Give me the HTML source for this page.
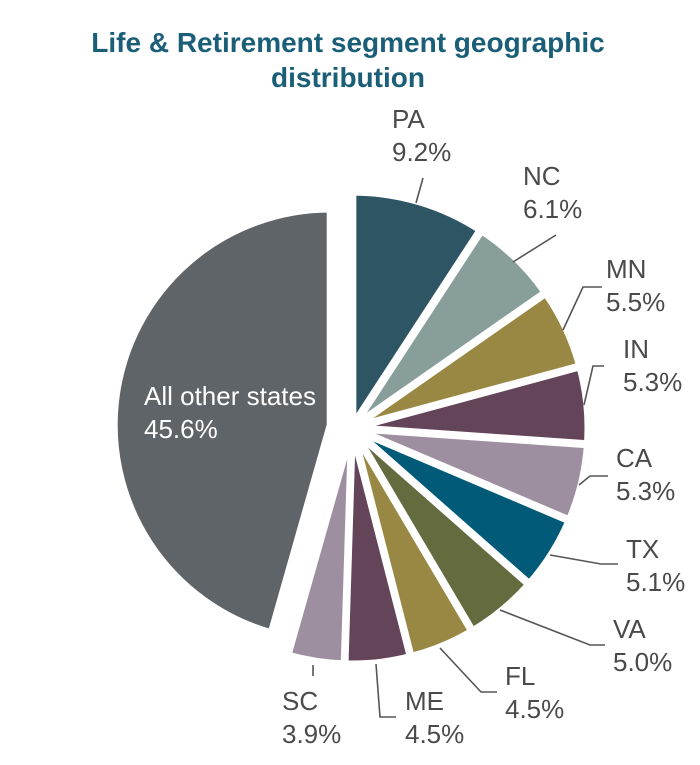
<!DOCTYPE html>
<html><head><meta charset="utf-8"><style>
body{margin:0;background:#fff;}
svg text{font-family:"Liberation Sans",Arial,sans-serif;}
</style></head><body>
<svg id="chart" width="700" height="760" viewBox="0 0 700 760" xmlns="http://www.w3.org/2000/svg">
<text x="348" y="52" text-anchor="middle" font-size="28" font-weight="bold" fill="#1b5e78">Life &amp; Retirement segment geographic</text>
<text x="348" y="87" text-anchor="middle" font-size="28" font-weight="bold" fill="#1b5e78">distribution</text>
<g id="slices"></g>
<g id="leaders" stroke="#555" stroke-width="1.6" fill="none"></g>
<g id="labels"></g>
</svg>
<script>
const categories=["PA","NC","MN","IN","CA","TX","VA","FL","ME","SC","All other states"];
const values=[9.2,6.1,5.5,5.3,5.3,5.1,5.0,4.5,4.5,3.9,45.6];
const valueLabels=["9.2%","6.1%","5.5%","5.3%","5.3%","5.1%","5.0%","4.5%","4.5%","3.9%","45.6%"];
const colors=["#2e5564","#879e9b","#998843","#634459","#9e8fa0","#005a78","#646b3f","#998843","#634459","#9e8fa0","#5f6468"];
const labelPos=[[392,128],[523,185],[606,278],[623,358],[616,467],[626,558],[613,638],[505,685],[405,710],[282,710],[144,405]];
const leaders=["M423,178 L416,203","M556,235 L513,262","M602,287 L583,287 L563,330","M604,366 L593,366 L584,405","M608,476 L590,476 L579,485","M618,564 L601,564 L550,555","M605,645 L590,645 L500,610","M497,692 L481,692 L440,648","M396,717 L380,717 L376,664","M313,665 L313,676"];
const NS="http://www.w3.org/2000/svg";
const cx=352,cy=428,r=233;
const total=values.reduce((a,b)=>a+b,0);
let start=0;
const gS=document.getElementById('slices'),gL=document.getElementById('leaders'),gT=document.getElementById('labels');
values.forEach((v,i)=>{
  const a0=start/total*2*Math.PI, a1=(start+v)/total*2*Math.PI; start+=v;
  const mid=(a0+a1)/2;
  const big=i===values.length-1;
  const off=big?22:3, rr=big?216:r;
  const ox=cx+off*Math.sin(mid), oy=cy-off*Math.cos(mid);
  const x0=ox+rr*Math.sin(a0),y0=oy-rr*Math.cos(a0),x1=ox+rr*Math.sin(a1),y1=oy-rr*Math.cos(a1);
  const p=document.createElementNS(NS,'path');
  p.setAttribute('d',`M${ox},${oy} L${x0},${y0} A${rr},${rr} 0 ${(a1-a0)>Math.PI?1:0} 1 ${x1},${y1} Z`);
  p.setAttribute('fill',colors[i]);p.setAttribute('stroke','#fff');p.setAttribute('stroke-width','7');p.setAttribute('stroke-linejoin','round');
  
  
  gS.appendChild(p);
  if(leaders[i]){const l=document.createElementNS(NS,'path');l.setAttribute('d',leaders[i]);
    
    
    gL.appendChild(l);}
  const [lx,ly]=labelPos[i];
  [categories[i],valueLabels[i]].forEach((s,k)=>{
    const t=document.createElementNS(NS,'text');
    t.setAttribute('x',lx);t.setAttribute('y',ly+k*33);t.setAttribute('font-size','26');
    t.setAttribute('fill',big?'#fff':'#4a4a4a');t.textContent=s;
    
    
    gT.appendChild(t);
  });
});
</script>
</body></html>
